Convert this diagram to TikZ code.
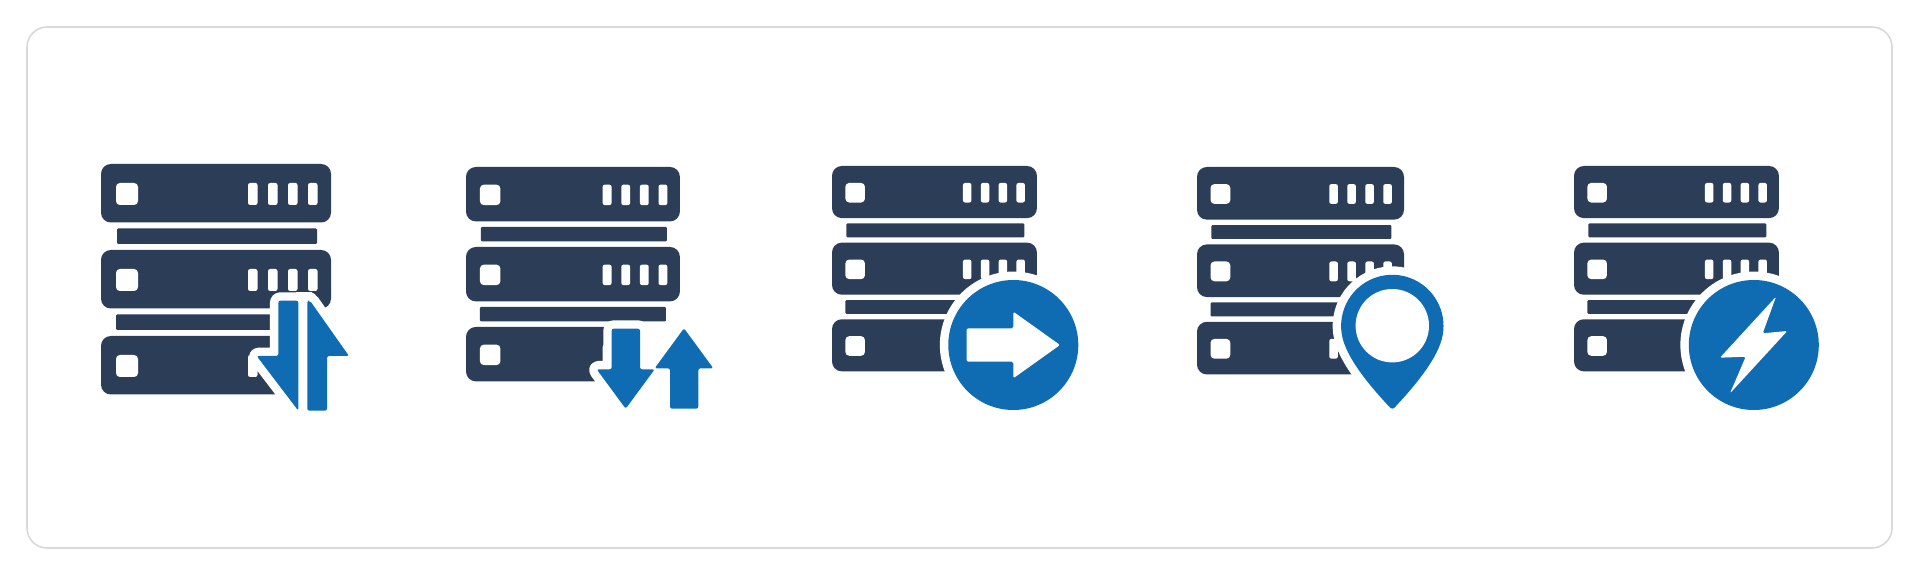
\documentclass[tikz,border=0pt]{standalone}
\usepackage{tikz}

\definecolor{rackNavy}{HTML}{2C3E57}
\definecolor{badgeBlue}{HTML}{0F6CB2}
\definecolor{frameGray}{HTML}{D9D9D9}

\tikzset{
	rackUnit/.style={fill=rackNavy, rounded corners=2.8pt},
	rackBar/.style={fill=rackNavy, rounded corners=0.3pt},
	rackSlot/.style={fill=white, rounded corners=1.1pt},
	rackLed/.style={fill=white, rounded corners=0.6pt},
	badge/.style={fill=badgeBlue, rounded corners=0.6pt},
	halo/.style={preaction={draw=white, fill=white, line width=4.8pt, line join=round}},
	cutout/.style={fill=white, rounded corners=0.4pt}
}

\begin{document}
\begin{tikzpicture}[x=0.01cm, y=-0.01cm]

	% Page and frame
	\useasboundingbox (0,0) rectangle (1920,576);
	\fill[white] (0,0) rectangle (1920,576);
	\draw[frameGray, line width=0.45pt, rounded corners=5.7pt] (27,27) rectangle (1892,548);

	% Server stacks
	\foreach \ox/\oy/\s in {101/164/1, 466/167/0.93, 832/166/0.891, 1197/167/0.9, 1574/166/0.891} {
		\begin{scope}[shift={(\ox,\oy)}, scale=\s]
			\foreach \r in {0,1,2} {
				\fill[rackUnit] (0,\r*86) rectangle ++(230,58.5);
				\fill[rackSlot] (15,19+\r*86) rectangle ++(22,22);
				\foreach \l in {147,167,187,207} {
					\fill[rackLed] (\l,19+\r*86) rectangle ++(9.5,22);
				}
			}
			\fill[rackBar] (16,64.5) rectangle ++(200,15.5);
			\fill[rackBar] (15,150.5) rectangle ++(200,15.5);
		\end{scope}
	}

	% Icon 1: split arrows
	\fill[white] (296,292.2) rectangle (312,302);
	\fill[badge, halo] (278.3,300.7) -- (298.3,300.7) -- (298.3,410.7) -- (256.7,356) -- (278.3,356) -- cycle
		(307.3,300.7) -- (310,300.7) -- (349,356) -- (327,356) -- (327,410.7) -- (307.3,410.7) -- cycle;

	% Icon 2: down and up arrows
	\fill[white] (604,326) rectangle (684,383);
	\fill[badge, halo] (611.7,328.7) -- (640,328.7) -- (640,369.3) -- (654.7,369.3) -- (625.7,408.7) -- (596.7,369.3) -- (611.7,369.3) -- cycle;
	\fill[badge] (684,328.3) -- (713.3,368.3) -- (698.3,368.3) -- (698.3,408.7) -- (670,408.7) -- (670,368.3) -- (654.7,368.3) -- cycle;

	% Icon 3: arrow in a circle
	\fill[badgeBlue, halo] (1013.3,345) circle (65);
	\fill[cutout] (966.7,328.3) -- (1013.3,328.3) -- (1013.3,311.7) -- (1060,345) -- (1013.3,378.3) -- (1013.3,361.7) -- (966.7,361.7) -- cycle;

	% Icon 4: map pin
	\fill[badgeBlue, halo] (1344.2,343.5) arc (160:380:51.2) .. controls (1431.9,367) and (1408,393) .. (1396,406) .. controls (1393.5,409.5) and (1391.1,409.5) .. (1388.6,406) .. controls (1376.6,393) and (1352.7,367) .. (1344.2,343.5) -- cycle;
	\fill[white] (1392.3,325.7) circle (36.7);

	% Icon 5: bolt in a circle
	\fill[badgeBlue, halo] (1753.8,345) circle (65);
	\fill[cutout] (1776,296.7) -- (1762.7,333.3) -- (1787.3,331) -- (1730,393.3) -- (1745.7,356.7) -- (1720,357.7) -- cycle;

\end{tikzpicture}
\end{document}
